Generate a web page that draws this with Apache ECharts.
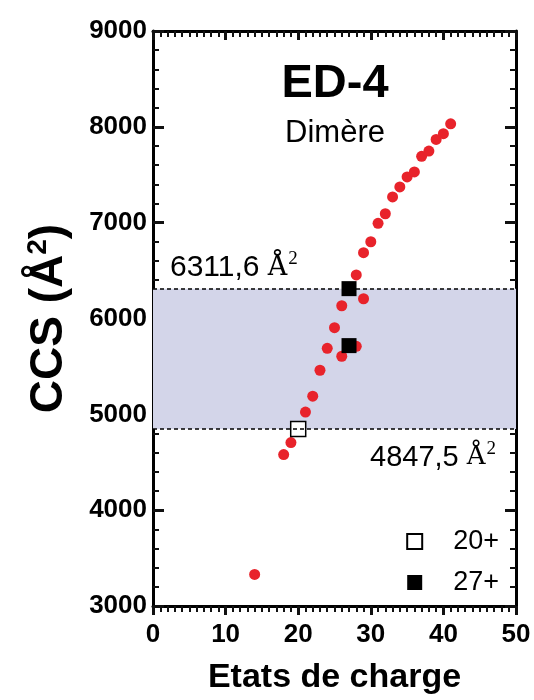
<!DOCTYPE html>
<html><head><meta charset="utf-8">
<script src="https://cdn.jsdelivr.net/npm/echarts@6/dist/echarts.min.js"></script>
<style>html,body{margin:0;padding:0;background:#fff}#c{width:534px;height:700px}</style>
</head><body><div id="c"></div>
<script>
const chargeStates = [14, 18, 19, 21, 22, 23, 24, 25, 26, 26, 28, 28, 29, 29, 30, 31, 32, 33, 34, 35, 36, 37, 38, 39, 40, 41];
const ccsValues = [3330, 4580, 4705, 5024, 5190, 5460, 5689, 5904, 6133, 5606, 5710, 6455, 6206, 6687, 6801, 6993, 7093, 7269, 7373, 7477, 7529, 7692, 7747, 7869, 7928, 8032];
const ion20 = [[20, 4847.5]];
const ion27 = [[27, 6311.6], [27, 5717]];
const bandLow = 4847.5;
const bandHigh = 6311.6;
const xTicks = [0, 10, 20, 30, 40, 50];
const yTicks = [3000, 4000, 5000, 6000, 7000, 8000, 9000];

const FONT = '"Liberation Sans", Arial, sans-serif';
const INK = '#111111';
const chart = echarts.init(document.getElementById('c'), null, {renderer: 'canvas'});
function axLine() { return {show: true, onZero: false, lineStyle: {color: '#000', width: 3}}; }
function majorTick(inside, len) { return {show: true, inside: inside, length: len, lineStyle: {color: INK, width: 3}}; }
function minorTick(n) { return {show: true, splitNumber: n, length: 6, lineStyle: {color: INK, width: 2}}; }
const option = {
  animation: false,
  grid: {left: 153, right: 18, top: 31, bottom: 93},
  xAxis: [
    {type: 'value', position: 'bottom', min: xTicks[0], max: xTicks[xTicks.length - 1], interval: 10,
      axisLine: axLine(), splitLine: {show: false},
      axisTick: majorTick(false, 9), minorTick: minorTick(10),
      axisLabel: {show: true, color: '#000', fontFamily: FONT, fontWeight: 'bold', fontSize: 26, margin: 16},
      name: 'Etats de charge', nameLocation: 'middle', nameGap: 55,
      nameTextStyle: {color: '#000', fontFamily: FONT, fontWeight: 'bold', fontSize: 34}},
    {type: 'value', position: 'top', min: xTicks[0], max: xTicks[xTicks.length - 1], interval: 10,
      axisLine: axLine(), splitLine: {show: false},
      axisTick: majorTick(true, 9), minorTick: minorTick(10), axisLabel: {show: false}}
  ],
  yAxis: [
    {type: 'value', position: 'left', min: yTicks[0], max: yTicks[yTicks.length - 1], interval: 1000,
      axisLine: axLine(), splitLine: {show: false},
      axisTick: majorTick(true, 11), minorTick: minorTick(5),
      axisLabel: {show: true, color: '#000', fontFamily: FONT, fontWeight: 'bold', fontSize: 26, margin: 6,
        formatter: v => String(v)},
      name: '{t|CCS (Å}{s|2}{t|)}', nameLocation: 'middle', nameGap: 79, nameRotate: 90,
      nameTextStyle: {color: '#000', fontFamily: FONT, fontWeight: 'bold', fontSize: 46,
        rich: {t: {fontFamily: FONT, fontWeight: 'bold', fontSize: 46, color: '#000'},
               s: {fontFamily: FONT, fontWeight: 'bold', fontSize: 28, color: '#000', padding: [0, 0, 22, 0]}}}},
    {type: 'value', position: 'right', min: yTicks[0], max: yTicks[yTicks.length - 1], interval: 1000,
      axisLine: axLine(), splitLine: {show: false},
      axisTick: majorTick(true, 11), minorTick: minorTick(5), axisLabel: {show: false}}
  ],
  legend: {
    right: 30, top: 523, orient: 'vertical', itemWidth: 15, itemHeight: 15, itemGap: 14,
    data: ['20+', '27+'],
    textStyle: {color: '#000', fontFamily: FONT, fontSize: 27, padding: [0, 0, 0, 26]}
  },
  series: [
    {
      name: 'ED-4', type: 'scatter', xAxisIndex: 0, yAxisIndex: 0,
      data: chargeStates.map((c, i) => [c, ccsValues[i]]),
      symbol: 'circle', symbolSize: 11, itemStyle: {color: '#e8232b', opacity: 1}, z: 3,
      markArea: {silent: true, itemStyle: {color: '#d3d5e9'}, data: [[{yAxis: bandLow}, {yAxis: bandHigh}]]},
      markLine: {silent: true, symbol: 'none', label: {show: false},
        lineStyle: {color: '#000', type: [4, 3], width: 1.5},
        data: [{yAxis: bandLow}, {yAxis: bandHigh}]}
    },
    {
      name: '20+', type: 'scatter', data: ion20, symbol: 'rect', symbolSize: 15, z: 4,
      itemStyle: {color: '#fff', borderColor: '#000', borderWidth: 1.5, opacity: 1}
    },
    {
      name: '27+', type: 'scatter', data: ion27, symbol: 'rect', symbolSize: 15, z: 4,
      itemStyle: {color: '#000', opacity: 1}
    }
  ],
  graphic: [
    {type: 'text', x: 335, y: 61, z: 10, style: {text: 'ED-4', fontFamily: FONT, fontWeight: 'bold', fontSize: 47, fill: '#000', align: 'center', verticalAlign: 'top'}},
    {type: 'text', x: 335, y: 118, z: 10, style: {text: 'Dimère', fontFamily: FONT, fontSize: 31, fill: '#000', align: 'center', verticalAlign: 'top'}},
    {type: 'text', z: 10, style: {x: 170, y: 250,
      text: '{a|6311,6 }{b|Å}{c|2}',
      rich: {a: {fontFamily: FONT, fontSize: 30, fill: '#000', color: '#000'},
             b: {fontFamily: '"DejaVu Serif", "Liberation Serif", serif', fontSize: 27, color: '#000'},
             c: {fontFamily: '"Liberation Serif", serif', fontSize: 19, color: '#000', padding: [0, 0, 16, 1]}}}},
    {type: 'text', z: 10, style: {x: 370, y: 440,
      text: '{a|4847,5 }{b|Å}{c|2}',
      rich: {a: {fontFamily: FONT, fontSize: 29, color: '#000'},
             b: {fontFamily: '"DejaVu Serif", "Liberation Serif", serif', fontSize: 26, color: '#000'},
             c: {fontFamily: '"Liberation Serif", serif', fontSize: 19, color: '#000', padding: [0, 0, 16, 1]}}}}
  ]
};
chart.setOption(option);
</script></body></html>
